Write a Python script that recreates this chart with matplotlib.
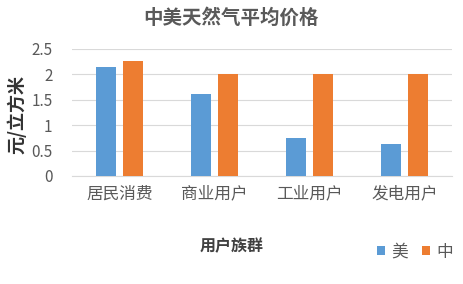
import numpy as np
import matplotlib.pyplot as plt

plt.rcParams['font.family'] = ['Noto Sans CJK SC', 'DejaVu Sans']

# data
categories = ["居民消费", "商业用户", "工业用户", "发电用户"]
us_price = [2.15, 1.61, 0.75, 0.63]
cn_price = [2.27, 2.0, 2.0, 2.0]

blue = "#5b9bd5"
orange = "#ed7d31"
grey = "#595959"

fig = plt.figure(figsize=(4.63, 2.84), dpi=100)
ax = fig.add_axes([72 / 463, 1 - 176 / 284, 380 / 463, 127 / 284])

x = np.arange(len(categories))
w = 0.22
ax.bar(x - 0.142, us_price, w, color=blue, label="美", zorder=3)
ax.bar(x + 0.142, cn_price, w, color=orange, label="中", zorder=3)

ax.set_xlim(-0.5, 3.5)
ax.set_ylim(0, 2.5)
ax.set_yticks([0, 0.5, 1, 1.5, 2, 2.5])
ax.set_yticklabels(["0", "0.5", "1", "1.5", "2", "2.5"])
ax.set_xticks(x)
ax.set_xticklabels(categories)
ax.tick_params(axis="both", length=0, colors=grey)
ax.tick_params(axis="x", pad=7, labelsize=12)
ax.tick_params(axis="y", pad=14, labelsize=11)
ax.yaxis.grid(True, color="#d9d9d9", linewidth=0.8, zorder=0)
for s in ["top", "right", "left"]:
    ax.spines[s].set_visible(False)
ax.spines["bottom"].set_color("#d9d9d9")

fig.text(231 / 463, 1 - 18 / 284, "中美天然气平均价格", ha="center", va="center",
         fontsize=14, fontweight="bold", color=grey)
fig.text(17 / 463, 1 - 114 / 284, "元/立方米", rotation=90, ha="center", va="center",
         fontsize=13, fontweight="bold", color="#333333")
fig.text(232 / 463, 1 - 246 / 284, "用户族群", ha="center", va="center",
         fontsize=11.5, fontweight="bold", color="#404040")

leg = fig.legend(loc="center", bbox_to_anchor=(415 / 463, 1 - 252 / 284), ncol=2,
                 frameon=False, fontsize=12, handlelength=0.5, handleheight=0.5,
                 columnspacing=0.8, handletextpad=0.4)
for t in leg.get_texts():
    t.set_color(grey)

fig.savefig("out.png", dpi=100)
